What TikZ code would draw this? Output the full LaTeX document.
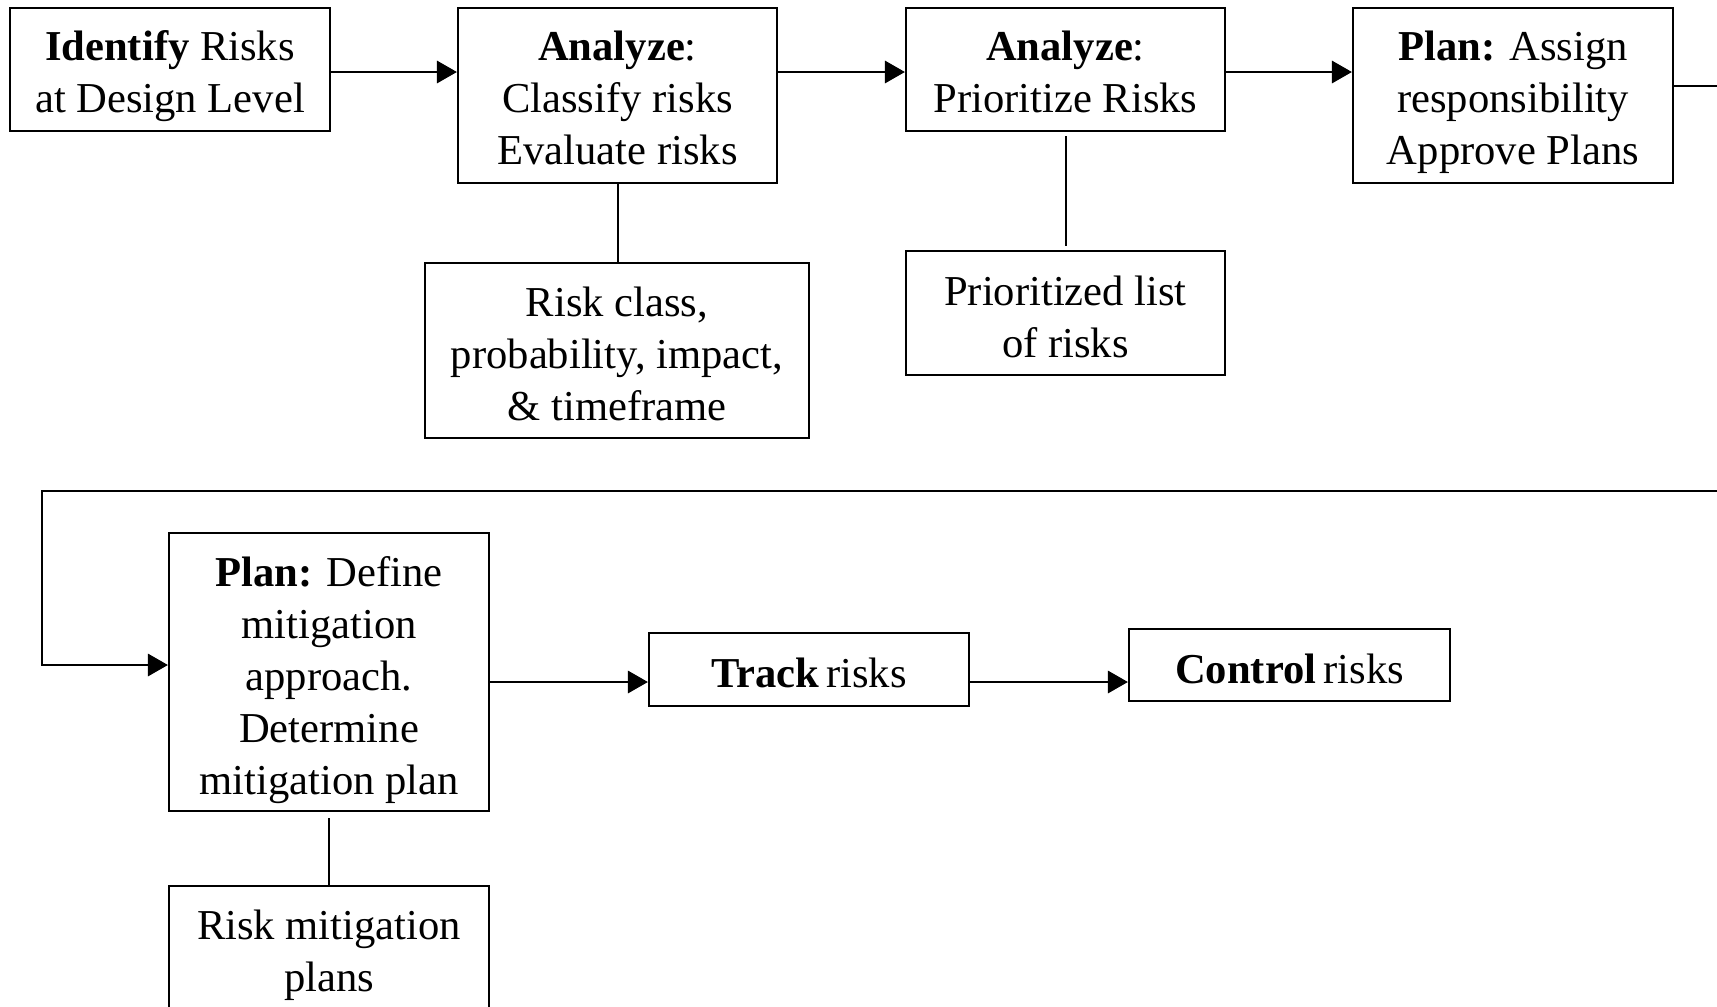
\documentclass[tikz,border=0pt]{standalone}
\usepackage{fontspec}
\setmainfont{Liberation Serif}
\usetikzlibrary{arrows.meta}

\begin{document}
\begin{tikzpicture}[
  x=0.25pt, y=-0.25pt,
  box/.style={draw, line width=0.55pt, rectangle, inner sep=0pt},
  txt/.style={inner sep=0pt, align=center, font=\fontsize{10.65}{13}\selectfont},
  link/.style={line width=0.5pt},
  arr/.style={line width=0.5pt, -{Triangle[length=5pt,width=5.6pt]}}
]
\useasboundingbox (0,0) rectangle (1717,1007);
\clip (0,0) rectangle (1717,1007);

% frames of the steps and of their outputs
\node[box, minimum width=80pt,    minimum height=30.75pt] (b1)  at (170,69.5)   {};
\node[box, minimum width=79.75pt, minimum height=43.75pt] (b2)  at (617.5,95.5)  {};
\node[box, minimum width=79.75pt, minimum height=30.75pt] (b3)  at (1065.5,69.5) {};
\node[box, minimum width=80pt,    minimum height=43.75pt] (b4)  at (1513,95.5)   {};
\node[box, minimum width=96pt,    minimum height=43.75pt] (b5)  at (617,350.5)   {};
\node[box, minimum width=79.75pt, minimum height=31pt]    (b6)  at (1065.5,313)  {};
\node[box, minimum width=80pt,    minimum height=69.5pt]  (b7)  at (329,672)     {};
\node[box, minimum width=80pt,    minimum height=32.5pt]  (b8)  at (329,951)     {};
\node[box, minimum width=80pt,    minimum height=18.25pt] (b9)  at (809,669.5)   {};
\node[box, minimum width=80.25pt, minimum height=18pt]    (b10) at (1289.5,665)  {};

% texts inside the frames
\node[txt] (t1)  at ([yshift=-1.6pt]b1)  {\textbf{Identify} Risks\\at Design Level};
\node[txt] (t2)  at ([yshift=-0.6pt]b2)  {\textbf{Analyze}:\\Classify risks\\Evaluate risks};
\node[txt] (t3)  at ([yshift=-0.6pt]b3)  {\textbf{Analyze}:\\Prioritize Risks};
\node[txt] (t4)  at ([yshift=-1.6pt]b4)  {\textbf{Plan:} Assign\\responsibility\\Approve Plans};
\node[txt] (t5)  at ([yshift=-0.8pt]b5)  {Risk class,\\probability, impact,\\\& timeframe};
\node[txt] (t6)  at ([yshift=-1.1pt]b6)  {Prioritized list\\of risks};
\node[txt] (t7)  at ([yshift=-2.1pt]b7)  {\textbf{Plan:} Define\\mitigation\\approach.\\Determine\\mitigation plan};
\node[txt] (t8)  at ([yshift=-1.1pt]b8)  {Risk mitigation\\plans};
\node[txt] (t9)  at ([yshift=-0.8pt]b9)  {\textbf{Track}\,risks};
\node[txt] (t10) at ([yshift=-1.1pt]b10) {\textbf{Control}\,risks};

% helper points
\coordinate (toprow) at (0,72);
\coordinate (rexit)  at (1740,86);
\coordinate (lr)     at (1740,491);
\coordinate (ll)     at (42,491);
\coordinate (lin)    at (0,665);
\coordinate (botrow) at (0,682);

% flow along the top row
\draw[arr] (b1.east |- toprow) -- (b2.west |- toprow);
\draw[arr] (b2.east |- toprow) -- (b3.west |- toprow);
\draw[arr] (b3.east |- toprow) -- (b4.west |- toprow);
\draw[link] (b4.east |- rexit) -- (rexit);

% return line to the second row
\draw[arr] (lr) -- (ll) -- (ll |- lin) -- (b7.west |- lin);

% flow along the second row
\draw[arr] (b7.east |- botrow) -- (b9.west |- botrow);
\draw[arr] (b9.east |- botrow) -- (b10.west |- botrow);

% step outputs
\draw[link] (b2.south) -- (b2.south |- b5.north);
\draw[link, shorten <=1pt, shorten >=1pt] (b3.south) -- (b3.south |- b6.north);
\draw[link, shorten <=1.5pt] (b7.south) -- (b8.north);
\end{tikzpicture}
\end{document}
